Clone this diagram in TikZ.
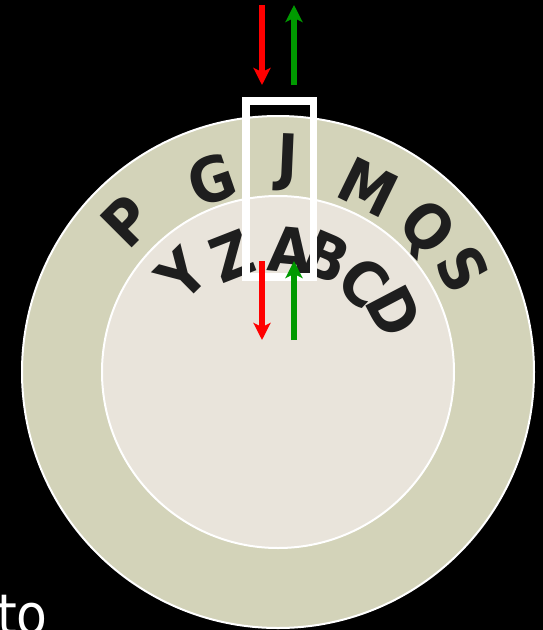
\documentclass[tikz,border=0pt]{standalone}
\usepackage{fontspec}
\setmainfont{DejaVu Sans Condensed}
\usetikzlibrary{arrows.meta}
\definecolor{ringouter}{HTML}{D3D3B9}
\definecolor{ringinner}{HTML}{E9E4DB}
\definecolor{glyph}{HTML}{1E1E1E}
\definecolor{upgreen}{HTML}{009A00}
\begin{document}
\begin{tikzpicture}[x=1pt,y=-1pt,
  ring/.style={draw=white,line width=2pt},
  letter/.style={text=glyph,inner sep=0pt,font=\fontsize{62}{62}\bfseries\selectfont},
  window/.style={draw=white,line width=7.5pt},
  flow/.style={line width=6pt,-{Stealth[length=17pt,width=17pt,inset=4pt]}},
  caption/.style={text=white,inner sep=0pt,anchor=base west,font=\fontsize{56}{56}\selectfont}]
\useasboundingbox (0,0) rectangle (543,630);
\fill[black] (0,0) rectangle (543,630);
\begin{scope}
\clip (0,0) rectangle (543,630);
% the two dials
\coordinate (hub) at (278,372);
\draw[ring,fill=ringouter] (hub) circle[radius=256];
\draw[ring,fill=ringinner] (hub) circle[radius=176];
% outer dial letters
\foreach \l/\a/\r in {P/-45/214, G/-19/203, J/2.5/210, M/26/205, Q/46/205, S/61/212}
  \node[letter,rotate=-\a] (out-\l) at ({278+\r*sin(\a)},{372-\r*cos(\a)}) {\l};
% inner dial letters
\foreach \l/\a/\r in {Y/-44.7/137, Z/-21.4/125, A/5.5/123, B/23/125, C/43.7/124, D/62.4/131}
  \node[letter,rotate=-\a] (in-\l) at ({278+\r*sin(\a)},{372-\r*cos(\a)}) {\l};
% reading window
\draw[window] (246,101) rectangle (313.5,277);
% flows into and out of the window
\coordinate (topin-s) at (262,5);   \coordinate (topin-e) at (262,85);
\coordinate (topout-s) at (294,85); \coordinate (topout-e) at (294,5);
\coordinate (botin-s) at (262,261); \coordinate (botin-e) at (262,340);
\coordinate (botout-s) at (294,340);\coordinate (botout-e) at (294,261);
\draw[flow,red] (topin-s) -- (topin-e);
\draw[flow,upgreen] (topout-s) -- (topout-e);
\draw[flow,red] (botin-s) -- (botin-e);
\draw[flow,upgreen] (botout-s) -- (botout-e);
\node[caption] (label) at (-3,634) {to};
\end{scope}
\end{tikzpicture}
\end{document}
